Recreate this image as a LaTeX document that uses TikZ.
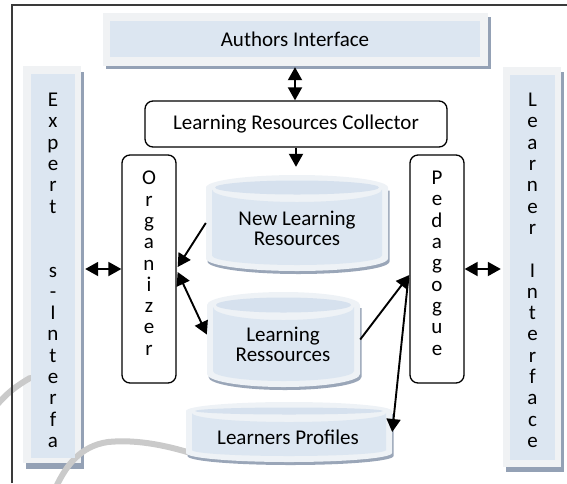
\documentclass[tikz,border=0pt]{standalone}
\usepackage{fontspec}
\setmainfont{Carlito}
\usetikzlibrary{arrows.meta,calc,backgrounds}

\definecolor{panelblue}{HTML}{DCE6F1}
\definecolor{panelrim}{HTML}{F0F2F4}
\definecolor{panelshade}{HTML}{94A1B5}
\definecolor{cylblue}{HTML}{DCE6F1}
\definecolor{cyltop}{HTML}{D6E1EE}
\definecolor{cylrim}{HTML}{EEF2F6}
\definecolor{cylshade}{HTML}{9AA6B8}
\definecolor{swoosh}{HTML}{CACACA}
\definecolor{framecol}{HTML}{3A3A3A}

% database drum: name, left, top, right, bottom, half-height of the ellipses
\newcommand\dbdrum[6]{%
  \pgfmathsetmacro\drumcx{(#2+#4)/2}%
  \pgfmathsetmacro\drumrx{(#4-#2)/2}%
  \pgfmathsetmacro\drumcy{(#3+#5)/2}%
  \pgfmathsetmacro\drumw{#4-#2}%
  \pgfmathsetmacro\drumh{#5-#3}%
  \fill[cylshade] (#2+1.5,#3+#6+3) -- (#2+1.5,#5-#6+3)
     arc[start angle=180,end angle=0,x radius=\drumrx,y radius=#6]
     -- (#4+1.5,#3+#6+3) -- cycle;
  \fill[cylrim] (#2,#3+#6) -- (#2,#5-#6)
     arc[start angle=180,end angle=0,x radius=\drumrx,y radius=#6]
     -- (#4,#3+#6)
     arc[start angle=0,end angle=-180,x radius=\drumrx,y radius=#6] -- cycle;
  \fill[cyltop] (\drumcx,#3+#6) ellipse[x radius=\drumrx-9,y radius=#6-5.5];
  \fill[cylblue] (#2+6,#3+#6+2)
     arc[start angle=180,end angle=0,x radius=\drumrx-6,y radius=#6]
     -- (#4-6,#5-#6-3)
     arc[start angle=0,end angle=180,x radius=\drumrx-6,y radius=#6-3] -- cycle;
  \node[drumnode, minimum width=\drumw pt, minimum height=\drumh pt] (#1) at (\drumcx,\drumcy) {};
}

\tikzset{
  panel/.style={fill=panelblue, inner sep=0pt, align=center},
  rbox/.style={draw=black, line width=1.3pt, rounded corners=8pt, fill=white, inner sep=0pt},
  drumnode/.style={draw=none, inner sep=0pt},
  drumtext/.style={align=center, inner sep=0pt, font=\fontsize{21}{20}\selectfont},
  vtext/.style={align=center, inner sep=0pt, anchor=north, font=\fontsize{21}{21.3}\selectfont},
  arr/.style={line width=1.9pt, -{Triangle[length=13pt,width=14pt]}},
  darr/.style={line width=1.9pt, {Triangle[length=13pt,width=14pt]}-{Triangle[length=13pt,width=14pt]}},
  wm/.style={draw=swoosh, line width=6pt, line cap=round},
}

\begin{document}
\begin{tikzpicture}[x=1pt, y=-1pt, font=\fontsize{21}{21.3}\selectfont]
\useasboundingbox (0,0) rectangle (567,483);

% faint swoosh in the lower left corner
\draw[wm] (-4,406) .. controls (6,394) and (16,386) .. (30,378);
\draw[wm] (56,487) .. controls (66,466) and (80,446) .. (108,442)
          .. controls (138,439) and (170,446) .. (200,456);

% page frame
\draw[framecol, line width=1.2pt] (12,483) -- (12,5) -- (567,5);

% side and top panels (blue face, pale rim and shade drawn behind)
\node[panel, minimum width=370pt, minimum height=36pt] (auth) at (295,39) {Authors Interface};
\node[panel, minimum width=44pt, minimum height=384pt] (exp) at (53,266) {};
\node[panel, minimum width=45pt, minimum height=385pt] (lrn) at (532.5,267.5) {};
\begin{scope}[on background layer]
  \fill[panelshade] ($(auth.north west)+(-4,-4)$) rectangle ($(auth.south east)+(10.5,12)$);
  \fill[panelrim] ($(auth.north west)+(-7,-8)$) rectangle ($(auth.south east)+(8,9)$);
  \fill[panelshade] ($(exp.north west)+(-5,-2)$) rectangle ($(exp.south east)+(8.5,10.5)$);
  \fill[panelrim] ($(exp.north west)+(-8,-8)$) rectangle ($(exp.south east)+(6,5)$);
  \fill[panelshade] ($(lrn.north west)+(-4,-3)$) rectangle ($(lrn.south east)+(8.5,11.5)$);
  \fill[panelrim] ($(lrn.north west)+(-7,-8)$) rectangle ($(lrn.south east)+(6,7)$);
\end{scope}
\node[vtext] (exptext) at (53,93) {E\\x\\p\\e\\r\\t\\~\\~\\s\\-\\I\\n\\t\\e\\r\\f\\a};
\node[vtext] (lrntext) at (532.5,93) {L\\e\\a\\r\\n\\e\\r\\~\\I\\n\\t\\e\\r\\f\\a\\c\\e};

% processing modules
\node[rbox, minimum width=302pt, minimum height=46pt] (coll) at (296,124) {Learning Resources Collector};
\node[rbox, minimum width=54pt, minimum height=228pt] (org) at (149,269) {};
\node[rbox, minimum width=54pt, minimum height=228pt] (ped) at (437,269) {};
\node[vtext] (orgtext) at (149,171) {O\\r\\g\\a\\n\\i\\z\\e\\r};
\node[vtext] (pedtext) at (437,171) {P\\e\\d\\a\\g\\o\\g\\u\\e};

% data stores
\dbdrum{nlr}{206}{175}{388}{271}{12.5}
\dbdrum{lr}{207}{292}{360}{387}{13}
\dbdrum{lp}{186}{402}{392}{462}{9}
\node[drumtext] (nlrtext) at (297,228) {New Learning\\Resources};
\node[drumtext] (lrtext) at (283,344) {Learning\\Ressources};
\node[drumtext] (lptext) at (288,437) {Learners Profiles};

% connectors
\coordinate (authB) at ($(auth.south)+(0,10)$);
\draw[darr] (authB) -- (authB |- coll.north);
\coordinate (nlrtop) at ($(nlr.north)+(0,-8)$);
\draw[arr] (coll.south) -- (coll.south |- nlrtop);
\coordinate (expR) at ($(exp.east)+(10,0)$);
\draw[darr] (org.west) -- (org.west -| expR);
\coordinate (lrnL) at ($(lrn.west)+(-9,0)$);
\draw[darr] (ped.east) -- (ped.east -| lrnL);
\coordinate (orgA) at ($(org.east)+(1,-2)$);
\coordinate (orgB) at ($(org.east)+(1,3)$);
\draw[arr] (nlr.west) -- (orgA);
\draw[darr] (orgB) -- ($(lr.west)+(0,-5)$);
\coordinate (pedA) at ($(ped.west)+(0,6)$);
\coordinate (pedB) at ($(ped.west)+(-1,9)$);
\draw[arr] (lr.east) -- (pedA);
\draw[arr] (pedB) -- (lp.east);
\end{tikzpicture}
\end{document}
